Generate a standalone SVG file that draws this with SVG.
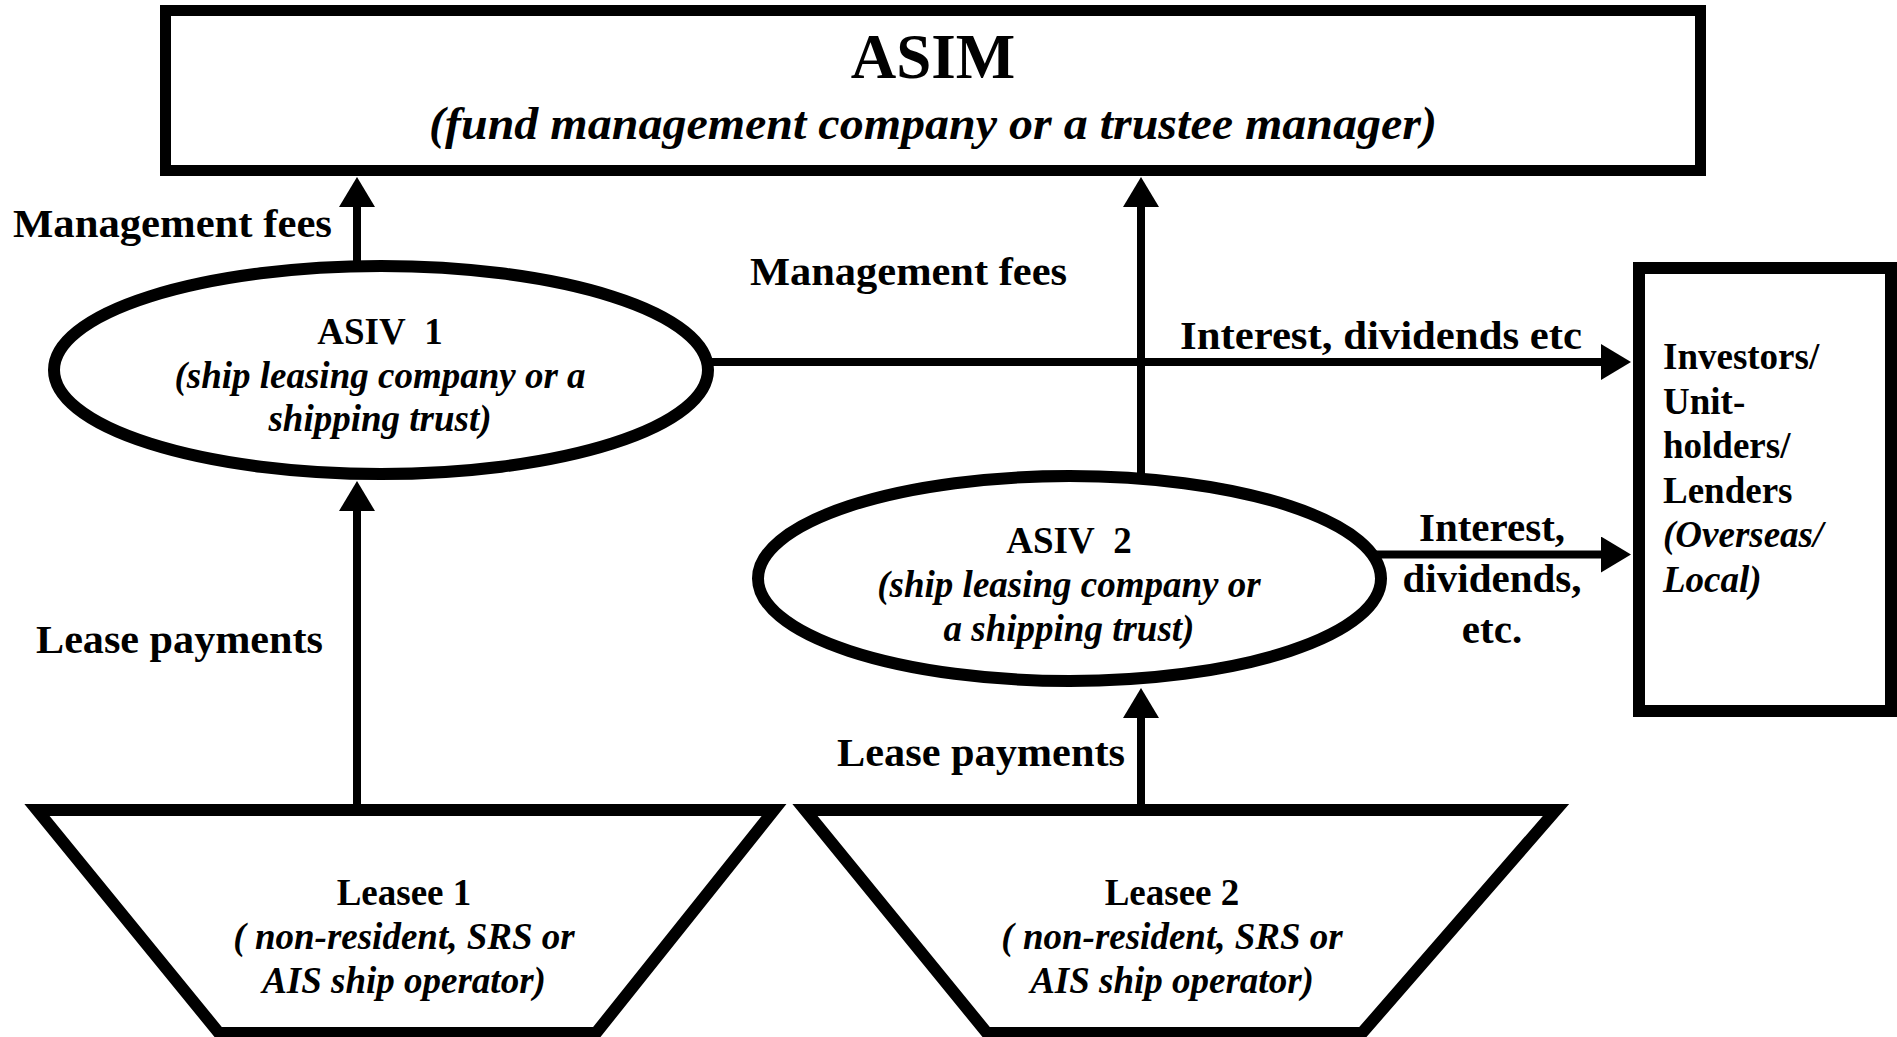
<svg xmlns="http://www.w3.org/2000/svg" width="1897" height="1037" viewBox="0 0 1897 1037">
  <style>
    .shape { fill: #ffffff; stroke: #000000; stroke-width: 12; stroke-linejoin: miter; }
    .conn { stroke: #000000; stroke-width: 8; fill: none; }
    text { font-family: "Liberation Serif", "Times New Roman", serif; font-weight: bold; fill: #000000; }
    .it { font-style: italic; }
    .mid { text-anchor: middle; }
    .lbl { font-size: 41px; }
    .node { font-size: 37px; }
  </style>
  <defs>
    <marker id="head" viewBox="0 -18 30 36" refX="1" refY="0" markerWidth="30" markerHeight="36" markerUnits="userSpaceOnUse" orient="auto">
      <path d="M0,-18 L30,0 L0,18 Z" fill="#000000"/>
    </marker>
  </defs>

  <rect width="1897" height="1037" fill="#ffffff"/>

  <!-- connectors -->
  <g id="connectors">
    <line class="conn" x1="357" y1="266" x2="357" y2="206" marker-end="url(#head)"/>
    <line class="conn" x1="1141" y1="476" x2="1141" y2="206" marker-end="url(#head)"/>
    <line class="conn" x1="708" y1="362" x2="1602" y2="362" marker-end="url(#head)"/>
    <line class="conn" x1="1372" y1="554.5" x2="1602" y2="554.5" marker-end="url(#head)"/>
    <line class="conn" x1="357" y1="810" x2="357" y2="510" marker-end="url(#head)"/>
    <line class="conn" x1="1141" y1="810" x2="1141" y2="717" marker-end="url(#head)"/>
  </g>

  <!-- edge labels -->
  <g id="labels">
    <text class="lbl" x="13" y="237" textLength="319" lengthAdjust="spacingAndGlyphs">Management fees</text>
    <text class="lbl" x="750" y="285" textLength="317" lengthAdjust="spacingAndGlyphs">Management fees</text>
    <text class="lbl" x="1180" y="349" textLength="402" lengthAdjust="spacingAndGlyphs">Interest, dividends etc</text>
    <text class="lbl mid" x="1492" y="541">Interest,</text>
    <text class="lbl mid" x="1492" y="592">dividends,</text>
    <text class="lbl mid" x="1492" y="643">etc.</text>
    <text class="lbl" x="36" y="653" textLength="287" lengthAdjust="spacingAndGlyphs">Lease payments</text>
    <text class="lbl" x="837" y="766" textLength="288" lengthAdjust="spacingAndGlyphs">Lease payments</text>
  </g>

  <!-- ASIM -->
  <g id="asim">
    <rect class="shape" x="165.5" y="10.5" width="1535" height="160" style="stroke-width:11"/>
    <text class="mid" x="933" y="78" font-size="63">ASIM</text>
    <text class="mid it" x="933" y="139" font-size="46" textLength="1008" lengthAdjust="spacingAndGlyphs">(fund management company or a trustee manager)</text>
  </g>

  <!-- ASIV 1 -->
  <g id="asiv1">
    <ellipse class="shape" cx="381" cy="370" rx="327" ry="104"/>
    <text class="node mid" x="380" y="344">ASIV&#160;&#160;1</text>
    <text class="node mid it" x="380" y="388">(ship leasing company or a</text>
    <text class="node mid it" x="380" y="431">shipping trust)</text>
  </g>

  <!-- ASIV 2 -->
  <g id="asiv2">
    <ellipse class="shape" cx="1069.5" cy="578.5" rx="311.5" ry="102.5"/>
    <text class="node mid" x="1069" y="553">ASIV&#160;&#160;2</text>
    <text class="node mid it" x="1069" y="597">(ship leasing company or</text>
    <text class="node mid it" x="1069" y="641">a shipping trust)</text>
  </g>

  <!-- Investors -->
  <g id="investors">
    <rect class="shape" x="1639" y="268" width="252" height="443"/>
    <text class="node" x="1663" y="369">Investors/</text>
    <text class="node" x="1663" y="413.5">Unit-</text>
    <text class="node" x="1663" y="458">holders/</text>
    <text class="node" x="1663" y="502.5">Lenders</text>
    <text class="node it" x="1663" y="547">(Overseas/</text>
    <text class="node it" x="1663" y="591.5">Local)</text>
  </g>

  <!-- Leasee 1 -->
  <g id="leasee1">
    <polygon class="shape" points="37,810 774,810 596,1033 219,1033"/>
    <text class="node mid" x="404" y="905">Leasee 1</text>
    <text class="node mid it" x="404" y="949">( non-resident, SRS or</text>
    <text class="node mid it" x="404" y="993">AIS ship operator)</text>
  </g>

  <!-- Leasee 2 -->
  <g id="leasee2">
    <polygon class="shape" points="805,810 1556,810 1362,1033 987,1033"/>
    <text class="node mid" x="1172" y="905">Leasee 2</text>
    <text class="node mid it" x="1172" y="949">( non-resident, SRS or</text>
    <text class="node mid it" x="1172" y="993">AIS ship operator)</text>
  </g>
</svg>
